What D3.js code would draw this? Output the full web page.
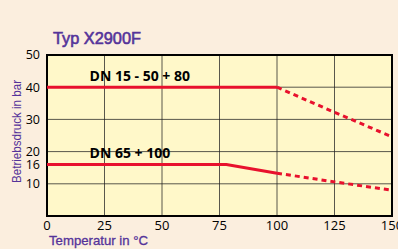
<!DOCTYPE html>
<html><head><meta charset="utf-8">
<script src="https://cdn.jsdelivr.net/npm/d3@7"></script>
<style>html,body{margin:0;padding:0;background:#FBEEDE;}</style>
</head><body>
<svg id="c" width="398" height="249"></svg>
<script>
const xTicks = [0, 25, 50, 75, 100, 125, 150];
const yTicks = [10, 16, 20, 30, 40, 50];
const yGrid = [10, 20, 30, 40];
const s1Solid = [[0, 40], [100, 40]];
const s1Dashed = [[100, 40], [125, 32.2], [150, 24.6]];
const s2Solid = [[0, 16], [78, 16], [100, 13.3]];
const s2Dashed = [[100, 13.3], [125, 10.6], [150, 8]];
const labels = [{t: "DN 15 - 50 + 80", x: 18.5, y: 42}, {t: "DN 65 + 100", x: 18.5, y: 18}];

const svg = d3.select("#c");
const x = d3.scaleLinear().domain([0, 150]).range([47, 392]);
const y = d3.scaleLinear().domain([0, 50]).range([216, 55]);

svg.append("rect").attr("x", x(0)).attr("y", y(50)).attr("width", x(150) - x(0)).attr("height", y(0) - y(50)).attr("fill", "#FFF8C9");

const g = svg.append("g");
g.selectAll(".vg").data(xTicks.slice(1, -1)).join("line")
  .attr("x1", d => x(d)).attr("x2", d => x(d)).attr("y1", y(50)).attr("y2", y(0))
  .attr("stroke", "#222").attr("stroke-opacity", 0.75).attr("stroke-width", 1);
g.selectAll(".hg").data(yGrid).join("line")
  .attr("y1", d => y(d)).attr("y2", d => y(d)).attr("x1", x(0)).attr("x2", x(150))
  .attr("stroke", "#222").attr("stroke-opacity", 0.75).attr("stroke-width", 1);

svg.append("rect").attr("x", x(0)).attr("y", y(50)).attr("width", x(150) - x(0)).attr("height", y(0) - y(50))
  .attr("fill", "none").attr("stroke", "#000").attr("stroke-width", 2);

const line = d3.line().x(d => x(d[0])).y(d => y(d[1]));
const red = "#E8112D";
[s1Solid, s2Solid].forEach(s => svg.append("path").attr("d", line(s)).attr("fill", "none").attr("stroke", red).attr("stroke-width", 3));
[s1Dashed, s2Dashed].forEach(s => svg.append("path").attr("d", line(s)).attr("fill", "none").attr("stroke", red).attr("stroke-width", 3).attr("stroke-dasharray", "5,4"));

const font = "'Open Sans', 'Liberation Sans', sans-serif";
svg.selectAll(".lbl").data(labels).join("text")
  .attr("x", d => x(d.x)).attr("y", d => y(d.y)).text(d => d.t)
  .attr("font-family", font).attr("font-weight", "bold").attr("font-size", 14).attr("fill", "#000");

svg.selectAll(".yt").data(yTicks).join("text")
  .attr("x", 40).attr("y", d => y(d)).attr("dy", "0.35em").attr("text-anchor", "end")
  .attr("font-family", font).attr("font-size", 12.5).attr("fill", "#000").text(d => d);
svg.selectAll(".xt").data(xTicks).join("text")
  .attr("x", d => x(d)).attr("y", 230).attr("text-anchor", "middle")
  .attr("font-family", font).attr("font-size", 13).attr("fill", "#000").text(d => d);

const purple = "#55339A";
const af = "'Liberation Sans', Arial, sans-serif";
svg.append("text").attr("x", 53).attr("y", 44).text("Typ X2900F")
  .attr("font-family", af).attr("font-size", 17).attr("fill", purple)
  .attr("stroke", purple).attr("stroke-width", 0.6)
  .attr("textLength", 88).attr("lengthAdjust", "spacingAndGlyphs");
svg.append("text").attr("x", 49).attr("y", 245).text("Temperatur in °C")
  .attr("font-family", af).attr("font-size", 13).attr("fill", purple)
  .attr("stroke", purple).attr("stroke-width", 0.3)
  .attr("textLength", 99).attr("lengthAdjust", "spacingAndGlyphs");
svg.append("text").attr("transform", "translate(21,131.5) rotate(-90)").attr("text-anchor", "middle").text("Betriebsdruck in bar")
  .attr("font-family", af).attr("font-size", 12).attr("fill", purple)
  .attr("textLength", 103).attr("lengthAdjust", "spacingAndGlyphs");
</script>
</body></html>
